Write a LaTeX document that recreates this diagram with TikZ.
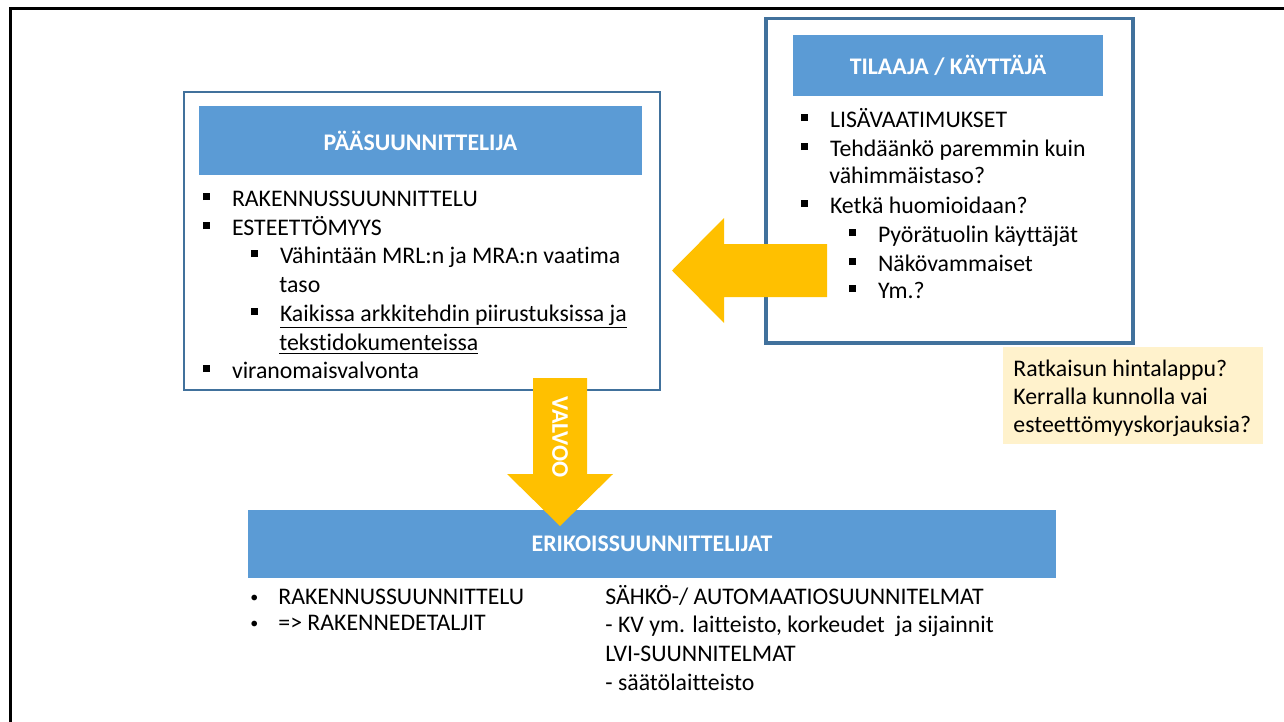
\documentclass[tikz,border=0pt]{standalone}
\usepackage{fontspec}
\setmainfont{Carlito}[Ligatures=NoCommon]
\usetikzlibrary{positioning}
\definecolor{headblue}{RGB}{91,155,213}
\definecolor{frameblue}{RGB}{65,113,156}
\definecolor{arrowgold}{RGB}{255,192,0}
\definecolor{notecream}{RGB}{255,242,204}
\newcommand{\sqbul}[1]{\makebox[14.3pt][l]{\rule[3pt]{3.3pt}{3.3pt}}#1}
\newcommand{\rndbul}[1]{\makebox[14pt][l]{\raisebox{1pt}{\fontsize{8}{8}\selectfont\textbullet}}#1}

\begin{document}
\begin{tikzpicture}[x=0.5pt, y=-0.5pt,
    header/.style={rectangle, fill=headblue, text=white, inner sep=0pt,
                   font=\fontsize{11.9}{14}\selectfont\bfseries},
    item/.style={anchor=base west, inner sep=0pt, font=\fontsize{11.9}{14.4}\selectfont}
]
    \useasboundingbox (0,0) rectangle (1284,722);
    % slide frame
    \draw[line width=1.5pt] (10.5,722) -- (10.5,9) -- (1284,9);

    % main designer
    \node[draw=frameblue, line width=0.75pt, minimum width=238pt, minimum height=149pt] (mainbox) at (422,241) {};
    \node[header, minimum width=221.5pt, minimum height=34.5pt] (mainhead) at (420.5,140.5) {PÄÄSUUNNITTELIJA};
    \node[item] (m1) at (203,206) {\sqbul{RAKENNUSSUUNNITTELU}};
    \node[item] (m2) at (203,235) {\sqbul{ESTEETTÖMYYS}};
    \node[item] (m3) at (251,263) {\sqbul{Vähintään MRL:n ja MRA:n vaatima}};
    \node[item] (m3b) at (279,292) {taso};
    \node[item] (m4) at (251,321) {\sqbul{\underline{Kaikissa arkkitehdin piirustuksissa ja}}};
    \node[item] (m4b) at (279,350) {\underline{tekstidokumenteissa}};
    \node[item] (m5) at (203,378) {\sqbul{viranomaisvalvonta}};

    % client / user
    \node[draw=frameblue, line width=1.75pt, minimum width=183.5pt, minimum height=162.25pt] (clientbox) at (949.5,180.75) {};
    \node[header, minimum width=155pt, minimum height=30.5pt] (clienthead) at (948,65.5) {TILAAJA / KÄYTTÄJÄ};
    \node[item] (c1) at (801,127) {\sqbul{LISÄVAATIMUKSET}};
    \node[item] (c2) at (801,156) {\sqbul{Tehdäänkö paremmin kuin}};
    \node[item] (c2b) at (829,184) {vähimmäistaso?};
    \node[item] (c3) at (801,213) {\sqbul{Ketkä huomioidaan?}};
    \node[item] (c4) at (849,242) {\sqbul{Pyörätuolin käyttäjät}};
    \node[item] (c5) at (849,271) {\sqbul{Näkövammaiset}};
    \node[item] (c6) at (849,298) {\sqbul{Ym.?}};

    % cost note
    \node[fill=notecream, minimum width=130pt, minimum height=48.5pt] (note) at (1133,395.5) {};
    \node[item] (n1) at (1013,376) {Ratkaisun hintalappu?};
    \node[item] (n2) at (1013,404) {Kerralla kunnolla vai};
    \node[item] (n3) at (1013,432) {esteettömyyskorjauksia?};

    % special designers
    \node[header, minimum width=404pt, minimum height=34pt] (spechead) at (652,544) {ERIKOISSUUNNITTELIJAT};
    \node[item] (s1) at (250,604) {\rndbul{RAKENNUSSUUNNITTELU}};
    \node[item] (s2) at (250,630) {\rndbul{=> RAKENNEDETALJIT}};
    \node[item] (s3) at (605,604) {SÄHKÖ-/ AUTOMAATIOSUUNNITELMAT};
    \node[item] (s4) at (605,632) {- KV ym. laitteisto, korkeudet\ \ ja sijainnit};
    \node[item] (s5) at (605,661) {LVI-SUUNNITELMAT};
    \node[item] (s6) at (605,690) {- säätölaitteisto};

    % block arrows
    \fill[arrowgold] (827,244) -- (724,244) -- (724,218) -- (672,270.5) -- (724,323) -- (724,297) -- (827,297) -- cycle;
    \fill[arrowgold] (533,378) -- (587,378) -- (587,474) -- (613,474) -- (560,526) -- (507,474) -- (533,474) -- cycle;
    \node[rotate=-90, text=white, inner sep=0pt, font=\fontsize{11.9}{14}\selectfont\bfseries] (valvoo) at (560,437) {VALVOO};
\end{tikzpicture}
\end{document}
